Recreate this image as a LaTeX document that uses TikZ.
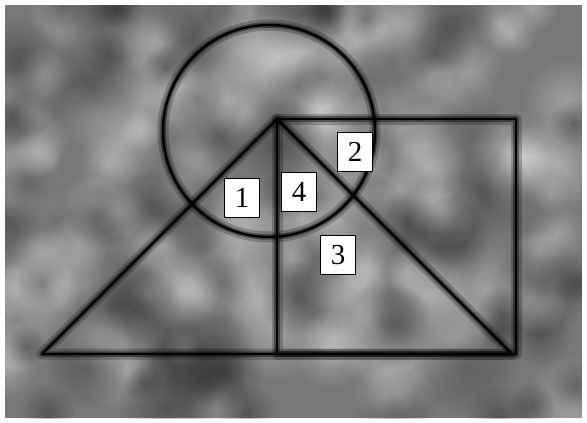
\documentclass[tikz,border=0pt]{standalone}
\usepackage{fontspec}
\setmainfont{Liberation Serif}
\usetikzlibrary{fadings}
\definecolor{slate}{RGB}{120,120,120}
\tikzfading[name=softdisc,inner color=transparent!0,outer color=transparent!100]

\begin{document}
\begin{tikzpicture}[x=1pt,y=-1pt,line join=round,line cap=round,
  glow/.style={draw=black,line width=11pt,opacity=0.22},
  innerglow/.style={draw=black,line width=5.5pt,opacity=0.4},
  edge/.style={draw=black,line width=2.4pt},
  numbox/.style={draw=black,fill=white,line width=1.1pt,minimum width=35pt,
    minimum height=39pt,inner sep=0pt,font=\fontsize{29}{30}\selectfont}]
\useasboundingbox (0,0) rectangle (587,423);
% ---------- mottled grey ground ----------
\fill[white] (0,0) rectangle (587,423);
\fill[slate] (5,5) rectangle (582,418);
\begin{scope}
  \clip (5,5) rectangle (582,418);
  \pgfmathsetseed{11}
  \foreach \k in {1,...,120}{%
    \pgfmathsetmacro{\bx}{5+577*rnd}%
    \pgfmathsetmacro{\by}{5+413*rnd}%
    \pgfmathsetmacro{\br}{20+35*rnd}%
    \fill[white,opacity=0.3,path fading=softdisc] (\bx,\by) circle (\br);
  }
  \foreach \k in {1,...,70}{%
    \pgfmathsetmacro{\bx}{5+577*rnd}%
    \pgfmathsetmacro{\by}{5+413*rnd}%
    \pgfmathsetmacro{\br}{20+35*rnd}%
    \fill[black,opacity=0.3,path fading=softdisc] (\bx,\by) circle (\br);
  }
\end{scope}
% ---------- corners of the figures ----------
\coordinate (apex)  at (277,119);
\coordinate (lbase) at (42,354);
\coordinate (rbase) at (512,354);
\coordinate (foot)  at (277,354);
\coordinate (sqtr)  at (516,119);
\coordinate (sqbr)  at (516,354);
\coordinate (ctr)   at (269,131);
% ---------- soft shadow under every line ----------
\draw[glow] (ctr) circle (106);
\draw[glow] (lbase) -- (apex) -- (rbase) -- cycle;
\draw[glow] (apex) -- (sqtr) -- (sqbr) -- (foot) -- cycle;
\draw[innerglow] (ctr) circle (106);
\draw[innerglow] (lbase) -- (apex) -- (rbase) -- cycle;
\draw[innerglow] (apex) -- (sqtr) -- (sqbr) -- (foot) -- cycle;
% ---------- circle, triangle, square ----------
\draw[edge] (ctr) circle (106);
\draw[edge] (lbase) -- (apex) -- (rbase) -- cycle;
\draw[edge] (apex) -- (sqtr) -- (sqbr) -- (foot) -- cycle;
% ---------- numbered regions ----------
\node[numbox] (box1) at (242,198) {1};
\node[numbox] (box2) at (355,152) {2};
\node[numbox] (box3) at (338,255) {3};
\node[numbox] (box4) at (299,192) {4};
\end{tikzpicture}
\end{document}
